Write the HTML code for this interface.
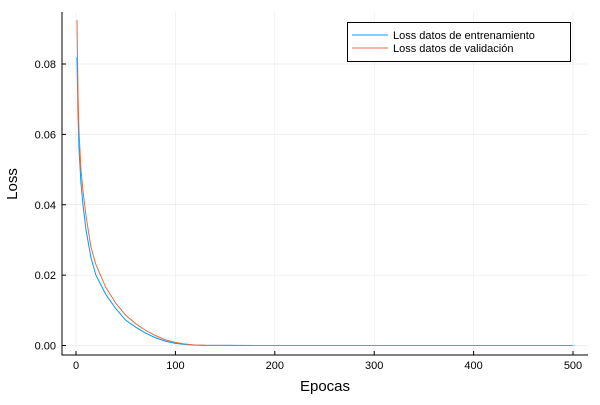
<!DOCTYPE html>
<html><head><meta charset="utf-8"><style>
body{margin:0;background:#fff}
text{font-family:"Liberation Sans",sans-serif}
</style></head><body>
<svg id="chart" width="600" height="400" xmlns="http://www.w3.org/2000/svg"></svg>
<script>
const epochs=[1,2,3,5,7,10,15,20,30,40,50,60,70,80,90,100,110,120,130,150,200,300,400,500];
const trainLoss=[.082,.066,.056,.046,.040,.033,.025,.020,.0145,.0105,.0072,.0052,.0035,.0022,.0012,.0006,.0003,.0001,.00005,.00002,0,0,0,0];
const valLoss=[.0925,.072,.061,.050,.044,.037,.028,.023,.0165,.012,.0086,.0062,.0043,.0028,.0016,.0009,.0004,.00015,.00006,.00002,0,0,0,0];
const xTicks=[0,100,200,300,400,500];
const yTicks=[0,0.02,0.04,0.06,0.08];
const yTickLabels=["0.00","0.02","0.04","0.06","0.08"];
const L=62,R=588,T=12,B=355;
const X=v=>76+v*(573-76)/500;
const Y=v=>345.5-v*(345.5-64)/0.08;
const svg=document.getElementById('chart');
const NS='http://www.w3.org/2000/svg';
function mk(t,a,p){const e=document.createElementNS(NS,t);for(const k in a)e.setAttribute(k,a[k]);(p||svg).appendChild(e);return e;}
xTicks.forEach(t=>{
 const g=mk('line',{x1:X(t),x2:X(t),y1:T,y2:B,stroke:'#000','stroke-opacity':0.1,'stroke-width':0.5});
 
 
 const tk=mk('line',{x1:X(t),x2:X(t),y1:B,y2:B-4,stroke:'#000'});
 
 
 const lb=mk('text',{x:X(t),y:B+14,'text-anchor':'middle','font-size':11});
 lb.textContent=t;
 
 
});
yTicks.forEach((t,i)=>{
 const g=mk('line',{x1:L,x2:R,y1:Y(t),y2:Y(t),stroke:'#000','stroke-opacity':0.1,'stroke-width':0.5});
 
 
 const tk=mk('line',{x1:L,x2:L+4,y1:Y(t),y2:Y(t),stroke:'#000'});
 
 
 const lb=mk('text',{x:L-6,y:Y(t)+4,'text-anchor':'end','font-size':11});
 lb.textContent=yTickLabels[i];
 
 
});
const ax=mk('path',{d:`M${L} ${T}V${B}H${R}`,fill:'none',stroke:'#000','stroke-width':1});


function line(vals,color,name){
 const p=mk('polyline',{points:epochs.map((e,i)=>X(e)+','+Y(vals[i])).join(' '),fill:'none',stroke:color,'stroke-width':1});
 
 
}
line(trainLoss,'#009af9','train-loss-line');
line(valLoss,'#e26f46','validation-loss-line');
const xl=mk('text',{x:325,y:391,'text-anchor':'middle','font-size':15});
xl.textContent='Epocas';


const yl=mk('text',{x:0,y:0,'text-anchor':'middle','font-size':15,transform:'translate(17,184) rotate(-90)'});
yl.textContent='Loss';


const lg=mk('g',{});


mk('rect',{x:347.5,y:22.5,width:223,height:39,fill:'#fff',stroke:'#000'},lg);
[['Loss datos de entrenamiento','#009af9'],['Loss datos de validación','#e26f46']].forEach((d,i)=>{
 const yy=35+i*13;
 const s=mk('line',{x1:352,x2:388,y1:yy,y2:yy,stroke:d[1],'stroke-width':1},lg);
 
 
 const t=mk('text',{x:393,y:yy+4,'font-size':11},lg);
 t.textContent=d[0];
 
 
});
</script>
</body></html>
